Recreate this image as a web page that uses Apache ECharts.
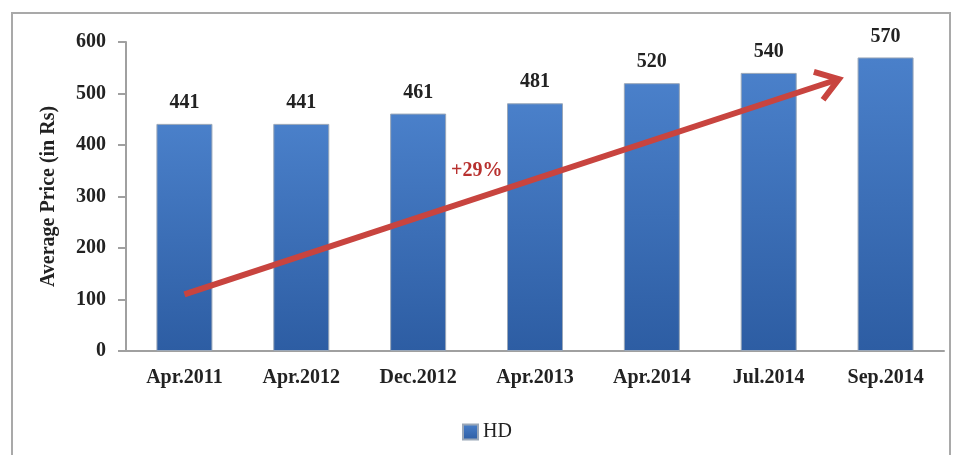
<!DOCTYPE html>
<html>
<head>
<meta charset="utf-8">
<script src="https://cdn.jsdelivr.net/npm/echarts@6/dist/echarts.min.js"></script>
<style>
  html, body { margin: 0; padding: 0; background: #fff; }
  #frame { position: absolute; left: 11px; top: 12px; width: 940px; height: 460px; border: 2px solid #a9a9a9; box-sizing: border-box; }
  #chart { width: 955px; height: 455px; position: absolute; left: 0; top: 0; }
</style>
</head>
<body>
<div id="frame"></div>
<div id="chart"></div>
<script>
// data
const categories = ['Apr.2011', 'Apr.2012', 'Dec.2012', 'Apr.2013', 'Apr.2014', 'Jul.2014', 'Sep.2014'];
const hdPrices = [441, 441, 461, 481, 520, 540, 570];
const seriesName = 'HD';
const growthLabel = '+29%';
// trend arrow ends, in data units (category index, price)
const arrowStart = [0, 110];
const arrowEnd = [5.6, 528];

const font = '"Liberation Serif", "DejaVu Serif", serif';
const chart = echarts.init(document.getElementById('chart'));

const option = {
  animation: false,
  grid: { left: 126, right: 11, top: 42, bottom: 104 },
  legend: {
    data: [{ name: seriesName, icon: 'rect' }],
    left: 457,
    top: 417,
    itemWidth: 15,
    itemHeight: 15,
    itemGap: 6,
    textStyle: { fontFamily: font, fontSize: 20, color: '#222' }
  },
  xAxis: {
    type: 'category',
    data: categories,
    axisLine: { lineStyle: { color: '#a0a0a0', width: 2 } },
    axisTick: { show: false },
    axisLabel: { fontFamily: font, fontWeight: 'bold', fontSize: 20, color: '#222', margin: 17 }
  },
  yAxis: {
    type: 'value',
    min: 0,
    max: 600,
    interval: 100,
    name: 'Average Price (in Rs)',
    nameLocation: 'middle',
    nameGap: 67,
    nameTextStyle: { fontFamily: font, fontWeight: 'bold', fontSize: 20, color: '#222' },
    axisLine: { show: true, lineStyle: { color: '#a0a0a0', width: 2 } },
    axisTick: { show: true, length: 8, lineStyle: { color: '#a0a0a0', width: 2 } },
    axisLabel: { fontFamily: font, fontWeight: 'bold', fontSize: 20, color: '#222', margin: 20 },
    splitLine: { show: false }
  },
  series: [{
    name: seriesName,
    type: 'bar',
    data: hdPrices,
    barWidth: 56,
    itemStyle: {
      color: new echarts.graphic.LinearGradient(0, 0, 0, 1, [
        { offset: 0, color: '#4a80ca' },
        { offset: 1, color: '#2d5da3' }
      ]),
      borderColor: '#9aa7b8',
      borderWidth: 1
    },
    label: {
      show: true,
      position: 'top',
      distance: 11,
      fontFamily: font,
      fontWeight: 'bold',
      fontSize: 20,
      color: '#222'
    }
  }]
};
chart.setOption(option);

// arrow annotation placed through the grid's own scales
function toPx(pt) {
  const i = Math.floor(pt[0]);
  const f = pt[0] - i;
  const a = chart.convertToPixel({ gridIndex: 0 }, [i, pt[1]]);
  const b = chart.convertToPixel({ gridIndex: 0 }, [Math.min(i + 1, categories.length - 1), pt[1]]);
  return [a[0] + (b[0] - a[0]) * f, a[1]];
}
const p0 = toPx(arrowStart);
const p1 = toPx(arrowEnd);
const ang = Math.atan2(p1[1] - p0[1], p1[0] - p0[0]);
const headLen = 26;
const spread = 0.6;
const h1 = [p1[0] - headLen * Math.cos(ang - spread), p1[1] - headLen * Math.sin(ang - spread)];
const h2 = [p1[0] - headLen * Math.cos(ang + spread), p1[1] - headLen * Math.sin(ang + spread)];
const red = '#c8443f';

chart.setOption({
  graphic: [
    {
      type: 'line',
      shape: { x1: p0[0], y1: p0[1], x2: p1[0] - 3 * Math.cos(ang), y2: p1[1] - 3 * Math.sin(ang) },
      style: { stroke: red, lineWidth: 6 },
      z: 100
    },
    {
      type: 'polyline',
      shape: { points: [h1, p1, h2] },
      style: { stroke: red, lineWidth: 6, fill: null, lineJoin: 'miter' },
      z: 100
    },
    {
      type: 'text',
      left: 451,
      top: 161,
      style: { text: growthLabel, fill: '#b8312f', font: 'bold 20px ' + font },
      z: 100
    }
  ]
});

window.addEventListener('resize', () => chart.resize());
</script>
</body>
</html>
